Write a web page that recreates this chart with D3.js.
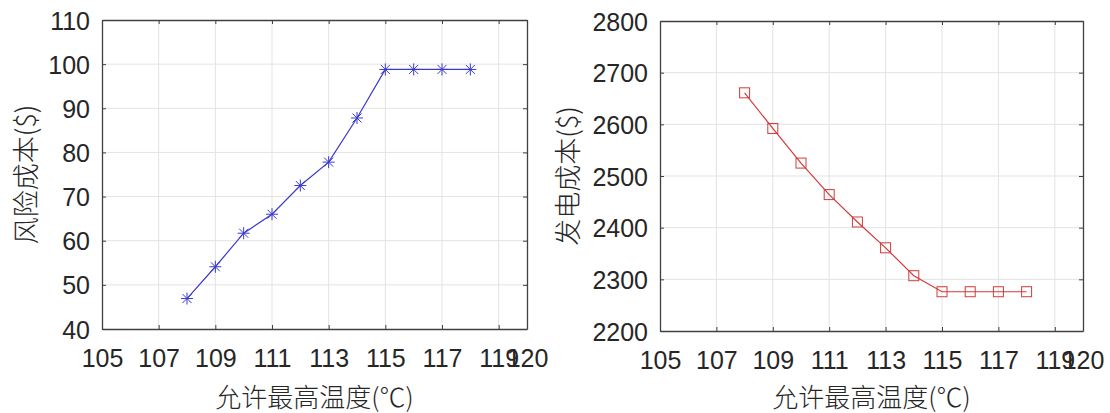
<!DOCTYPE html>
<html>
<head>
<meta charset="utf-8">
<script src="https://cdn.jsdelivr.net/npm/d3@7"></script>
<style>
body { margin: 0; background: #fff; }
svg text { fill: #262626; }
</style>
</head>
<body>
<div id="chart"></div>
<script>
// data
var temps = [108, 109, 110, 111, 112, 113, 114, 115, 116, 117, 118]
var riskCost = [46.9, 54.1, 61.7, 66, 72.5, 77.8, 87.8, 98.8, 98.8, 98.8, 98.8]
var genCost = [2661, 2592, 2525, 2464, 2411, 2361, 2307, 2276, 2276, 2276, 2276]
var xTicks = [105, 107, 109, 111, 113, 115, 117, 119, 120]
var riskTicks = [40, 50, 60, 70, 80, 90, 100, 110]
var genTicks = [2200, 2300, 2400, 2500, 2600, 2700, 2800]

var W = 1110, H = 413

var svg = d3.select("#chart")
  .append("svg")
  .attr("width", W)
  .attr("height", H)

var tickFont = "'Liberation Sans', Arial, sans-serif"
var cjkFont = "'Noto Sans CJK SC', sans-serif"

function panel(opt) {
  var x = d3.scaleLinear().domain([105, 120]).range([opt.left, opt.right])
  var y = d3.scaleLinear().domain(opt.ydom).range([opt.bottom, opt.top])
  var g = svg.append("g")

  // grid
  g.selectAll(".gx").data(xTicks.slice(1, -1)).enter()
    .append("line")
    .attr("x1", function(d) {return x(d)}).attr("x2", function(d) {return x(d)})
    .attr("y1", opt.top).attr("y2", opt.bottom)
    .style("stroke", "#e3e3e3").style("stroke-width", 1)
  g.selectAll(".gy").data(opt.yticks.slice(1, -1)).enter()
    .append("line")
    .attr("y1", function(d) {return y(d)}).attr("y2", function(d) {return y(d)})
    .attr("x1", opt.left).attr("x2", opt.right)
    .style("stroke", "#e3e3e3").style("stroke-width", 1)

  // axes (inward ticks, box on all sides)
  var fmt = d3.format("d")
  var bottom = d3.axisBottom(x).tickValues(xTicks).tickFormat(fmt).tickSizeInner(-4).tickSizeOuter(0).tickPadding(20)
  var left = d3.axisLeft(y).tickValues(opt.yticks).tickFormat(fmt).tickSizeInner(-4).tickSizeOuter(0).tickPadding(12)
  var top = d3.axisTop(x).tickValues(xTicks).tickSizeInner(-4).tickSizeOuter(0).tickFormat("")
  var right = d3.axisRight(y).tickValues(opt.yticks).tickSizeInner(-4).tickSizeOuter(0).tickFormat("")

  var gb = g.append("g").attr("transform", "translate(0," + opt.bottom + ")").call(bottom)
  var gl = g.append("g").attr("transform", "translate(" + opt.left + ",0)").call(left)
  g.append("g").attr("transform", "translate(0," + opt.top + ")").call(top)
  g.append("g").attr("transform", "translate(" + opt.right + ",0)").call(right)

  g.selectAll(".domain").style("stroke", "#404040").style("stroke-width", 1.3)
  g.selectAll(".tick line").style("stroke", "#404040")
  g.selectAll(".tick text").style("font-family", tickFont).style("font-size", "25px").style("fill", "#262626")
  gb.selectAll(".tick text").attr("dy", "0.71em")
  gl.selectAll(".tick text").attr("dy", "0.36em")

  // line + markers
  var pts = temps.map(function(t, i) {return {x: t, y: opt.values[i]}})
  var line = d3.line().x(function(d) {return x(d.x)}).y(function(d) {return y(d.y)})
  g.append("path").datum(pts)
    .attr("d", line)
    .style("fill", "none").style("stroke", opt.color).style("stroke-width", 1.2)

  var m = g.selectAll(".mk").data(pts).enter()
    .append("g")
    .attr("transform", function(d) {return "translate(" + x(d.x) + "," + y(d.y) + ")"})
  if (opt.marker == "star") {
    m.append("path")
      .attr("d", "M-6 0 L6 0 M0 -6 L0 6 M-4.5 -4.5 L4.5 4.5 M-4.5 4.5 L4.5 -4.5")
      .style("stroke", opt.color).style("stroke-width", 1).style("fill", "none")
  } else {
    m.append("rect")
      .attr("x", -5).attr("y", -5).attr("width", 10).attr("height", 10)
      .style("stroke", opt.color).style("stroke-width", 1).style("fill", "none")
  }

  // labels
  g.append("text")
    .attr("x", (opt.left + opt.right) / 2)
    .attr("y", 395)
    .attr("text-anchor", "middle").attr("dominant-baseline", "central")
    .style("font-family", cjkFont).style("font-size", "26px").style("font-weight", 300)
    .text("允许最高温度(℃)")
  g.append("text")
    .attr("transform", "translate(" + opt.ylabX + "," + ((opt.top + opt.bottom) / 2) + ") rotate(-90)")
    .attr("text-anchor", "middle").attr("dominant-baseline", "central")
    .style("font-family", cjkFont).style("font-size", "27px").style("font-weight", 300)
    .text(opt.ylabel)
}

panel({left: 102, right: 527, top: 20, bottom: 329, ydom: [40, 110], yticks: riskTicks,
  values: riskCost, color: "#3a3ad0", marker: "star", ylabel: "风险成本($)", ylabX: 24})
panel({left: 660, right: 1083, top: 21, bottom: 331, ydom: [2200, 2800], yticks: genTicks,
  values: genCost, color: "#d23a3a", marker: "square", ylabel: "发电成本($)", ylabX: 566})
</script>
</body>
</html>
